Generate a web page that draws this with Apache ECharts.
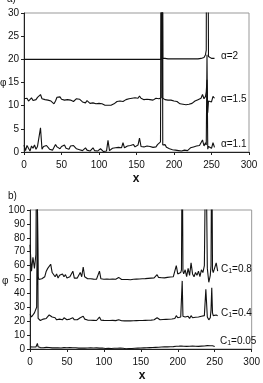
<!DOCTYPE html>
<html><head><meta charset="utf-8">
<script src="https://cdn.jsdelivr.net/npm/echarts@6/dist/echarts.min.js"></script>
<style>html,body{margin:0;padding:0;background:#fff}#c{width:263px;height:383px}</style>
</head><body><div id="c"></div>
<script>
// panel a) x positions
const xsA = [0,2,4,6,8,10,12,14,16,18, 20,22,24,26,28,30,32,34,36,38, 40,42,44,46,48,50,52,54,56,58, 60,62,64,66,68,70,72,74,76,78, 80,82,84,86,88,90,92,94,96,98, 100,102,104,106,108,110,112,114,116,118, 120,122,124,126,128,130,132,134,136,138, 140,142,144,146,148,150,152,154,156,158, 160,162,164,166,168,170,172,174,176,178, 180,182,183,184,185,186,188,190,192,194,196,198, 200,202,204,206,208,210,212,214,216,218, 220,222,224,226,228,230,232,234,236,238, 240,242,243,244,245,246,248,250,252,254];
const a2 = [20,20,20,20,20,20,20,20,20,20, 20,20,20,20,20,20,20,20,20,20, 20,20,20,20,20,20,20,20,20,20, 20,20,20,20,20,20,20,20,20,20, 20,20,20,20,20,20,20,20,20,20, 20,20,20,20,20,20,20,20,20,20, 20,20,20,20,20,20,20,20,20,20, 20,20,20,20,20,20,20,20,20,20, 20,20,20,20,20,20,20,20,20,20, 20,20,20,100,20.2,20.3,20.2,20.2,20.1,20.1,20.1,20.1, 20.1,20.1,20.1,20.1,20.1,20.1,20.1,20.1,20.1,20.1, 20.1,20.1,20.1,20.1,20.1,20.1,20.1,20.1,20.2,20.3, 20.4,21,22,100,100,20.6,20.3,20.2,20.3,20.2];
const a15 = [11.5,11.2,11.6,11.0,11.4,11.7,11.1,11.5,11.3,11.8, 11.6,12.4,11.5,11.9,11.3,11.6,11.2,11.4,11.0,10.6, 10.4,11.0,11.8,11.5,11.9,11.4,11.6,11.2,11.5,11.3, 11.6,11.2,11.4,10.9,11.3,11.5,11.1,11.4,11.2,10.8, 11.0,10.6,11.1,10.7,10.5,10.9,10.6,10.8,10.4,10.6, 10.5,10.3,10.4,10.2,10.1,10.2,10.1,10.0,10.1,10.2, 10.4,10.6,10.9,10.8,11.0,11.2,10.9,11.1,11.3,11.2, 11.5,11.3,11.6,11.4,11.7,11.5,11.6,12.1,11.6,11.8, 11.3,11.5,11.4,11.7,11.3,11.5,11.2,11.4,11.6,11.3, 11.5,11.8,11.7,100,11.6,11.6,11.3,11.5,11.2,11.0,11.2,10.8, 11.0,10.7,10.9,10.6,10.4,10.6,10.3,10.5,10.2,10.4, 10.3,10.6,10.5,10.8,11.0,10.9,11.3,11.2,11.6,12.4, 11.5,12.0,13.0,15.6,8.5,11.0,11.4,10.8,12.0,11.6];
const a11 = [1.5,0.3,1.4,1.0,0.2,1.3,0.8,1.5,0.6,1.2, 1.0,5.2,0.6,1.2,0.9,1.4,1.1,0.6,0.9,0.4, 0.8,1.6,1.1,1.3,0.7,1.2,0.9,1.5,0.8,1.1, 0.6,1.3,1.0,1.4,1.2,0.7,1.0,0.5,0.9,0.3, 0.6,0.9,0.4,0.8,0.2,0.5,0.9,0.3,0.6,0.2, 0.4,0.7,0.3,0.1,0.5,0.2,2.5,0.3,0.5,0.8, 0.6,0.9,0.7,1.0,0.8,0.9,2.0,0.9,1.1,1.3, 1.0,1.4,1.2,1.6,1.1,1.3,1.5,3.0,1.2,1.4, 1.1,1.5,1.3,0.9,1.2,1.4,1.0,1.3,1.1,1.6, 1.2,2.2,1.8,100,1.5,1.3,1.6,1.0,1.2,0.7,1.0,0.5, 0.8,0.4,0.6,0.3,0.5,0.2,0.6,0.4,0.7,0.3, 0.6,0.9,0.5,1.1,0.8,1.3,1.0,1.4,1.2,2.6, 1.3,2.0,1.5,21,0.6,1.2,1.2,0.8,2.0,1.0];

// panel b) x positions
const xsB = [0,2,4,6,8,9,10,11,12,14,16,18, 20,22,24,26,28,30,32,34,36,38, 40,42,44,46,48,50,52,54,56,58, 60,62,64,66,68,70,72,74,76,78, 80,82,84,86,88,90,92,94,96,98, 100,102,104,106,108,110,112,114,116,118, 120,122,124,126,128,130,132,134,136,138, 140,142,144,146,148,150,152,154,156,158, 160,162,164,166,168,170,172,174,176,178, 180,182,184,186,188,190,192,194,196,198, 200,202,204,205,206,207,208,210,212,214,216,218, 220,222,224,226,228,230,232,234,236,238, 240,242,244,245,246,247,248,250,252,254];
const b08 = [75,56,66,58,68,160,160,52,50,51,50.5,51.5, 52,56,58,57,61,55,54,52,54,51, 53,52,54,52,53.5,51,50,52,51,56, 51,52,51,53,55,52,59,52,51,50.5, 50,50.5,50,50.3,50,50.2,50,56,50.5,50, 50.2,50,50.3,50,50.2,50,50.4,50,50.2,50.6, 51.5,50.4,50,50.2,50,50.3,50,50.2,49.8,50, 50.2,50,50.3,50.1,50.4,50.2,50.5,50.3,50.6,50.4, 50.8,50.5,51,50.7,51.2,51.5,53.5,51.5,51,51.3, 51.8,51.2,52,51.5,52.5,51.8,51.2,52,53,60, 54,53,55,57,160,56,54,57,52,58,53,62, 54,52,55,53,56,52,57,55,60,160, 58,48,53,60,160,57,55,54,62,56];
const b04 = [25,23,24,26,27,30,110,22,21,20.5,21,21.5, 21,22,23,24.5,24,23,22,22.5,21,22, 21.5,22,21,22.5,21.5,21,20.5,21.5,21,22.5, 21,21.5,21,22,22.5,21.5,23.5,21.5,21,20.8, 20.5,20.7,20.5,20.6,20.4,20.5,20.6,23,20.8,20.5, 20.6,20.4,20.5,20.3,20.5,20.4,20.6,20.3,20.4,20.6, 21,20.5,20.3,20.4,20.2,20.4,20.3,20.5,20.2,20.4, 20.3,20.5,20.4,20.6,20.5,20.7,20.5,20.8,20.6,20.9, 20.7,21,20.8,21.2,21,21.3,22.5,21.3,21,21.4, 21.2,21.6,21.3,21.8,21.4,21.2,21.6,21.4,22,24, 22.5,21.8,23,24,49,23.5,22.5,23,21.8,23.5,22,24, 22.5,21.5,22.8,21.5,23,21.8,23.5,22.5,24,43, 23,21,22.5,28,44,26,24,23.5,24.5,24];
const b005 = [1.5,1.3,1.4,1.2,1.5,2,4,1.6,1.2,1.0,1.1,0.9, 1.0,1.2,0.9,1.1,1.0,0.8,1.0,0.9,1.1,0.8, 1.0,0.7,0.9,1.0,0.8,0.9,0.7,1.0,0.8,0.9, 0.7,0.9,0.8,0.6,0.8,0.7,0.9,0.6,0.8,0.7, 0.6,0.8,0.5,0.7,0.6,0.8,1.2,0.6,0.5,0.7, 0.6,0.4,0.6,0.5,0.7,0.4,0.6,0.5,0.3,0.5, 0.4,0.6,0.3,0.5,0.4,0.2,0.4,0.3,0.5,0.4, 0.6,0.5,0.7,0.6,0.8,0.7,0.9,0.8,1.0,0.9, 1.1,1.0,1.2,1.1,1.3,1.2,1.4,1.3,1.5,1.4, 1.6,1.5,1.7,1.5,1.8,1.6,1.9,1.7,1.8,2.0, 1.8,2.1,1.9,2.2,2.6,2.1,2.0,2.2,1.9,2.3,2.0,2.4, 2.1,2.3,2.0,2.2,1.9,2.4,2.1,2.5,2.2,3.0, 2.4,2.0,2.3,2.5,2.8,2.3,2.1,1.8,'-','-'];

const xTicks = [0,50,100,150,200,250,300];
const yTicksA = [0,5,10,15,20,25,30];
const yTicksB = [0,10,20,30,40,50,60,70,80,90,100];
const labelsA = ['α=2','α=1.5','α=1.1'];
const labelsB = ['0.8','0.4','0.05'];

const FONT = 'Liberation Sans, Arial, sans-serif';
const pair = (xs, arr) => xs.map((x,i)=>[x, arr[i]]);

function xAxis(gi){
  return {type:'value', gridIndex:gi, min:xTicks[0], max:xTicks[xTicks.length-1], interval:50,
    axisLine:{show:true,onZero:false,lineStyle:{color:'#222',width:1}},
    axisTick:{show:true,length:3,lineStyle:{color:'#222'}},
    axisLabel:{fontSize:10,color:'#111',fontFamily:FONT,margin:8},
    splitLine:{show:false}};
}
function yAxis(gi, ticks){
  return {type:'value', gridIndex:gi, min:ticks[0], max:ticks[ticks.length-1], interval:ticks[1]-ticks[0],
    axisLine:{show:true,lineStyle:{color:'#222',width:1}},
    axisTick:{show:true,length:3,lineStyle:{color:'#222'}},
    axisLabel:{fontSize:10,color:'#111',fontFamily:FONT,margin:5},
    splitLine:{show:false}};
}
function line(gi, xs, arr){
  return {type:'line', xAxisIndex:gi, yAxisIndex:gi, data:pair(xs, arr), showSymbol:false, symbol:'none',
    clip:true, lineStyle:{color:'#111',width:1.1}, silent:true, connectNulls:false};
}
function txt(t,x,y,size,bold){
  return {type:'text', x:x, y:y, style:{text:t, fill:'#111', font:(bold?'bold ':'')+size+'px '+FONT, textVerticalAlign:'middle'}};
}
function ctxt(v,x,y){
  return {type:'text', x:x, y:y, style:{text:'{a|C}{s|1}{a|='+v+'}', fill:'#111', textVerticalAlign:'middle',
    rich:{a:{fontSize:10,fontFamily:FONT,fill:'#111'}, s:{fontSize:7,fontFamily:FONT,fill:'#111',padding:[5,0,0,0]}}}};
}

const chart = echarts.init(document.getElementById('c'), null, {renderer:'canvas'});
chart.setOption({
  animation:false,
  backgroundColor:'#fff',
  grid:[
    {left:24, top:13, width:225, height:139, show:true, borderColor:'#999', borderWidth:1, backgroundColor:'transparent'},
    {left:30, top:210, width:225, height:139, show:true, borderColor:'#999', borderWidth:1, backgroundColor:'transparent'}
  ],
  xAxis:[xAxis(0), xAxis(1)],
  yAxis:[yAxis(0,yTicksA), yAxis(1,yTicksB)],
  series:[line(0,xsA,a2), line(0,xsA,a15), line(0,xsA,a11), line(1,xsB,b08), line(1,xsB,b04), line(1,xsB,b005)],
  graphic:[
    txt('a)',7,-1,10,false),
    txt('b)',8,196,10,false),
    txt('φ',0,83,10,false),
    txt('φ',2,281,10,false),
    {type:'text', x:136, y:179, style:{text:'x', fill:'#111', font:'bold 12px '+FONT, textAlign:'center', textVerticalAlign:'middle'}},
    {type:'text', x:142, y:376, style:{text:'x', fill:'#111', font:'bold 12px '+FONT, textAlign:'center', textVerticalAlign:'middle'}},
    txt(labelsA[0],221,56,10,false),
    txt(labelsA[1],221,99,10,false),
    txt(labelsA[2],221,144,10,false),
    ctxt(labelsB[0],221,269),
    ctxt(labelsB[1],221,313),
    ctxt(labelsB[2],220,341)
  ]
});
</script></body></html>
